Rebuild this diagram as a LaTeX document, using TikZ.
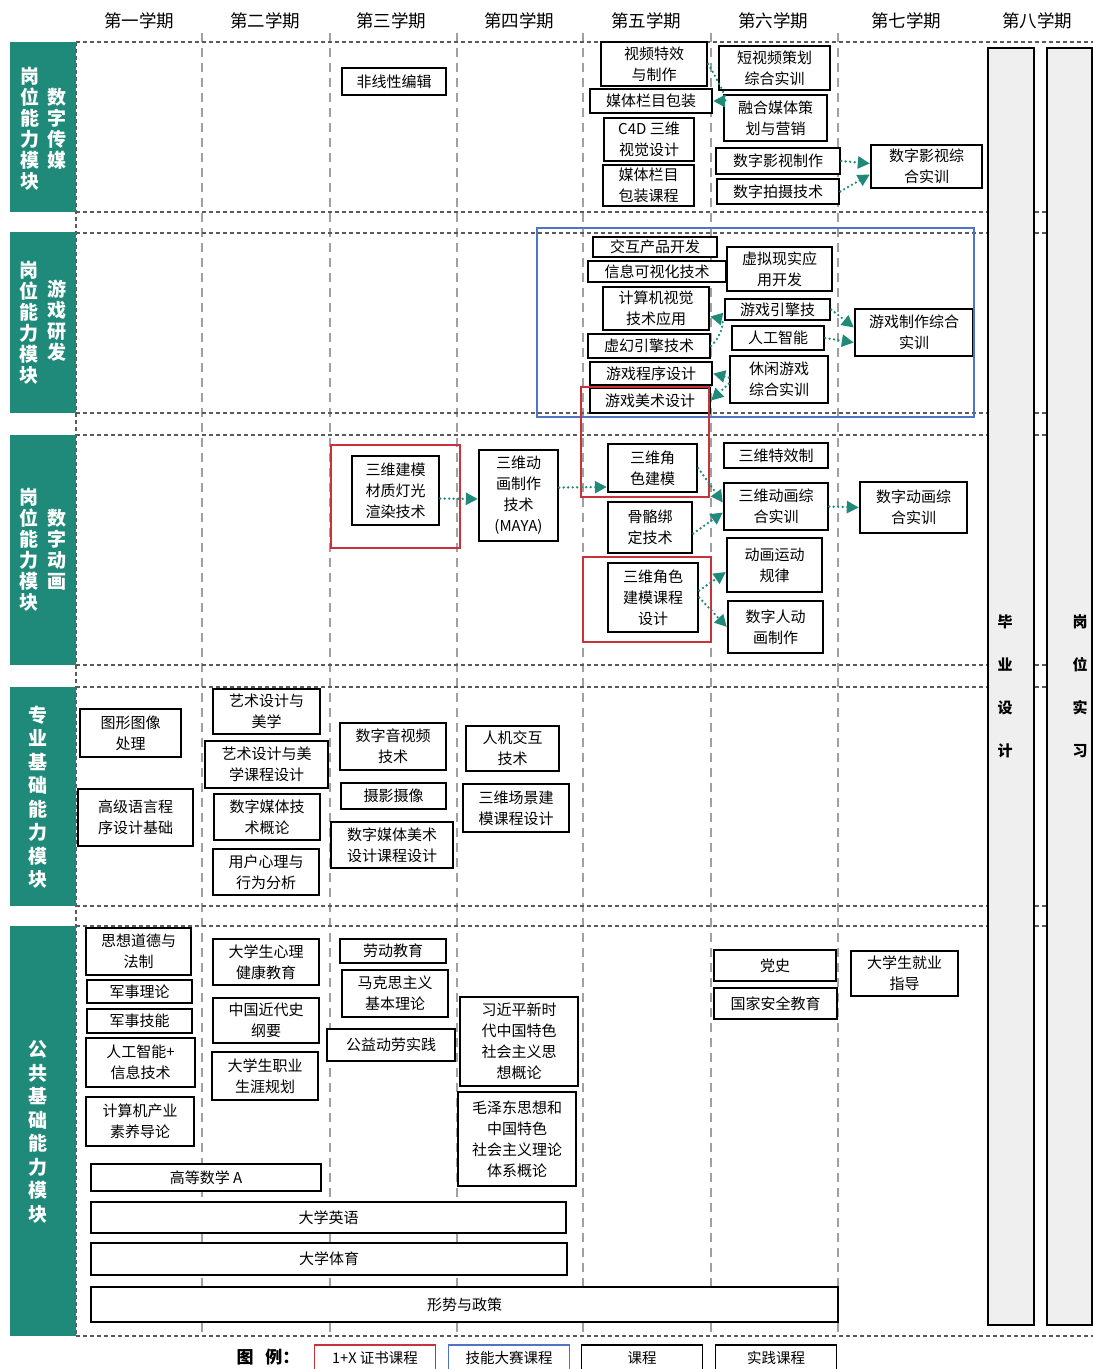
\documentclass[tikz,border=0pt]{standalone}
\usepackage{fontspec}
\setmainfont{Noto Sans CJK SC}
\usetikzlibrary{arrows.meta}

\definecolor{modgreen}{HTML}{1F8A79}
\definecolor{certred}{HTML}{C8323A}
\definecolor{skillblue}{HTML}{4F74C4}
\definecolor{gridgray}{HTML}{A0A0A0}
\definecolor{rowgray}{HTML}{5A5A5A}
\definecolor{colgray}{HTML}{EFEFEF}

\begin{document}
\begin{tikzpicture}[
    x=1pt, y=-1pt,
    course/.style 2 args={rectangle, draw, line width=2.4pt, fill=white, align=center, inner sep=0pt,
        minimum width=#1pt, minimum height=#2pt, font=\fontsize{15}{21}\selectfont},
    term/.style={inner sep=0pt, font=\fontsize{17.5}{17.5}\selectfont},
    modtext/.style={text=white, align=center, inner sep=0pt, font=\bfseries\fontsize{19}{21}\selectfont},
    modtextlong/.style={modtext, font=\bfseries\fontsize{19}{23.5}\selectfont},
    colword/.style={align=center, inner sep=0pt, font=\bfseries\fontsize{15}{43}\selectfont},
    semline/.style={draw=gridgray, line width=1.6pt, dash pattern=on 9pt off 6pt},
    rowline/.style={draw=rowgray, line width=1.5pt, dash pattern=on 4pt off 3pt},
    flow/.style={draw=modgreen, line width=2.6pt, line cap=round, dash pattern=on 0pt off 4.5pt,
        -{Triangle[length=12pt, width=12pt]}},
    certbox/.style={draw=certred, line width=2pt},
    skillbox/.style={draw=skillblue, line width=2pt},
    legbox/.style={rectangle, draw, line width=1.8pt, fill=white, inner sep=0pt,
        minimum width=121pt, minimum height=26pt, font=\fontsize{14.5}{14.5}\selectfont}
]
\useasboundingbox (0,0) rectangle (1093,1369);

% semesters
\foreach \x/\t in {139/第一学期, 265/第二学期, 391/第三学期, 519/第四学期,
                   646/第五学期, 773/第六学期, 906/第七学期, 1037/第八学期}
    \node[term] (sem\x) at (\x,21) {\t};

% grid
\foreach \x in {202,330,457,583,711,838}
    \draw[semline] (\x,33) -- (\x,1336);
\foreach \y in {42,212,233,413,435,665,687,906,926,1336}
    \draw[rowline] (76,\y) -- (1093,\y);
\draw[rowline] (76,42) -- (76,1336);

% module bands
\fill[modgreen] (10,42) rectangle (76,212);
\fill[modgreen] (10,232) rectangle (76,413);
\fill[modgreen] (10,435) rectangle (76,665);
\fill[modgreen] (10,687) rectangle (76,906);
\fill[modgreen] (10,926) rectangle (76,1336);
\node[modtext] (m1a) at (30,129) {岗\\位\\能\\力\\模\\块};
\node[modtext] (m1b) at (57,129) {数\\字\\传\\媒};
\node[modtext] (m2a) at (29,323) {岗\\位\\能\\力\\模\\块};
\node[modtext] (m2b) at (57,321) {游\\戏\\研\\发};
\node[modtext] (m3a) at (29,550) {岗\\位\\能\\力\\模\\块};
\node[modtext] (m3b) at (57,550) {数\\字\\动\\画};
\node[modtextlong] (m4) at (38,797) {专\\业\\基\\础\\能\\力\\模\\块};
\node[modtextlong] (m5) at (38,1132) {公\\共\\基\\础\\能\\力\\模\\块};

% final semesters
\draw[fill=colgray, line width=1.2pt] (988,48) rectangle (1034,1325);
\draw[fill=colgray, line width=1.2pt] (1047,48) rectangle (1092,1325);
\node[colword] (bysj) at (1005,686.5) {毕\\业\\设\\计};
\node[colword] (gwsx) at (1080,686.5) {岗\\位\\实\\习};

% digital media
\node[course={104}{27}] (fxxbj) at (394,81.5) {非线性编辑};
\node[course={106}{44}] (sptx) at (654,64) {视频特效\\与制作};
\node[course={122}{24}] (mtbz) at (651,101) {媒体栏目包装};
\node[course={90}{43}] (cfdsw) at (649,139.5) {C4D 三维\\视觉设计};
\node[course={91}{41}] (mtkc) at (648.5,185.5) {媒体栏目\\包装课程};
\node[course={111}{44}] (dspch) at (774.5,68) {短视频策划\\综合实训};
\node[course={103}{46}] (rhmt) at (775.5,118) {融合媒体策\\划与营销};
\node[course={124}{26}] (szys) at (778,161) {数字影视制作};
\node[course={122}{25}] (szps) at (778,191.5) {数字拍摄技术};
\node[course={111}{43}] (yszh) at (926.5,166.5) {数字影视综\\合实训};

\draw[flow] (sptx.east) .. controls +(8,14) and +(16,0) .. (mtbz.east);
\draw[flow] (szys.east) -- ([yshift=3pt]yszh.west);
\draw[flow] (szps.east) -- ([yshift=-8pt]yszh.west);

% game development
\node[course={124}{20}] (jhcp) at (655,247) {交互产品开发};
\node[course={138}{21}] (xxksh) at (657,271.5) {信息可视化技术};
\node[course={106}{43}] (jsjsj) at (656,308.5) {计算机视觉\\技术应用};
\node[course={122}{24}] (xhyq) at (649,346) {虚幻引擎技术};
\node[course={122}{23}] (yxcx) at (651,373.5) {游戏程序设计};
\node[course={120}{25}] (yxms) at (650,400.5) {游戏美术设计};
\node[course={105}{44}] (xnxs) at (779.5,269) {虚拟现实应\\用开发};
\node[course={105}{21}] (yxyq) at (777.5,309.5) {游戏引擎技};
\node[course={92}{24}] (rgzn) at (778,338) {人工智能};
\node[course={98}{47}] (xxyx) at (779,379.5) {休闲游戏\\综合实训};
\node[course={118}{47}] (yxzh) at (914,332.5) {游戏制作综合\\实训};
\draw[skillbox] (537,228) rectangle (974,417);

\draw[flow] (xhyq.east) .. controls +(12,-12) and +(14,3) .. ([yshift=-8pt]jsjsj.east);
\draw[flow] (yxyq.east) -- ([yshift=5pt]yxzh.west);
\draw[flow] (rgzn.east) -- ([yshift=-10pt]yxzh.west);
\draw[flow] ([yshift=2pt]xxyx.west) -- (yxcx.east);
\draw[flow] ([yshift=-4pt]xxyx.west) -- (yxms.east);

% digital animation
\node[course={87}{69}] (swjm) at (395.5,490.5) {三维建模\\材质灯光\\渲染技术};
\node[course={79}{91}] (maya) at (518.5,495.5) {三维动\\画制作\\技术\\(MAYA)};
\node[course={89}{48}] (swjs) at (652.5,468) {三维角\\色建模};
\node[course={84}{51}] (ggbd) at (650,527.5) {骨骼绑\\定技术};
\node[course={90}{69}] (jskc) at (653,597.5) {三维角色\\建模课程\\设计};
\node[course={104}{25}] (swtx) at (776,455.5) {三维特效制};
\node[course={104}{47}] (dhzh) at (776,506.5) {三维动画综\\合实训};
\node[course={95}{54}] (dhyd) at (774.5,565) {动画运动\\规律};
\node[course={95}{52}] (szr) at (775.5,627) {数字人动\\画制作};
\node[course={107}{51}] (szdh) at (913.5,507.5) {数字动画综\\合实训};
\draw[certbox] (331,445) rectangle (460,548);
\draw[certbox] (581,387) rectangle (709,497);
\draw[certbox] (583,557) rectangle (711,642);

\draw[flow] ([yshift=-8pt]swjm.east) -- ([yshift=-3.5pt]maya.west);
\draw[flow] ([yshift=8pt]maya.east) -- ([yshift=-19pt]swjs.west);
\draw[flow] (swjs.east) -- ([yshift=4pt]dhzh.west);
\draw[flow] ([yshift=-6pt]ggbd.east) -- ([yshift=-6pt]dhzh.west);
\draw[flow] (dhzh.east) -- (szdh.west);
\draw[flow] ([yshift=7pt]jskc.east) -- ([yshift=-7pt]dhyd.west);
\draw[flow] (jskc.east) -- (szr.west);

% professional basics
\node[course={101}{48}] (txtx) at (130.5,733) {图形图像\\处理};
\node[course={115}{57}] (gjyy) at (135.5,817.5) {高级语言程\\序设计基础};
\node[course={107}{45}] (ysmx) at (266.5,711.5) {艺术设计与\\美学};
\node[course={123}{47}] (yskc) at (266.5,764.5) {艺术设计与美\\学课程设计};
\node[course={106}{46}] (szmtgl) at (267,817) {数字媒体技\\术概论};
\node[course={106}{46}] (yhxl) at (266,872) {用户心理与\\行为分析};
\node[course={106}{47}] (szyp) at (393,746.5) {数字音视频\\技术};
\node[course={105}{26}] (sysx) at (393.5,796) {摄影摄像};
\node[course={122}{46}] (mskc) at (392,845) {数字媒体美术\\设计课程设计};
\node[course={93}{45}] (rjjh) at (512.5,748.5) {人机交互\\技术};
\node[course={106}{48}] (cjkc) at (516,808) {三维场景建\\模课程设计};

% public basics
\node[course={105}{47}] (sxdd) at (138.5,951.5) {思想道德与\\法制};
\node[course={105}{23}] (jsll) at (139.5,991.5) {军事理论};
\node[course={105}{24}] (jsjn) at (139.5,1021) {军事技能};
\node[course={109}{49}] (rgznxx) at (140.5,1062.5) {人工智能+\\信息技术};
\node[course={108}{49}] (jsjcy) at (140,1121.5) {计算机产业\\素养导论};
\node[course={230}{27}] (gdsx) at (206,1177.5) {高等数学 A};
\node[course={106}{46}] (dxxl) at (266,962) {大学生心理\\健康教育};
\node[course={106}{45}] (zgjd) at (266,1020.5) {中国近代史\\纲要};
\node[course={106}{48}] (zysy) at (265,1076) {大学生职业\\生涯规划};
\node[course={106}{24}] (ldjy) at (393,951) {劳动教育};
\node[course={106}{47}] (mksz) at (395,993.5) {马克思主义\\基本理论};
\node[course={128}{32}] (gyld) at (391,1045) {公益动劳实践};
\node[course={118}{89}] (xjp) at (519,1041.5) {习近平新时\\代中国特色\\社会主义思\\想概论};
\node[course={118}{94}] (mzd) at (517,1139) {毛泽东思想和\\中国特色\\社会主义理论\\体系概论};
\node[course={122}{31}] (dangshi) at (775,965.5) {党史};
\node[course={123}{31}] (gjaq) at (775.5,1003.5) {国家安全教育};
\node[course={107}{45}] (jyzd) at (904.5,973.5) {大学生就业\\指导};
\node[course={475}{31}] (dxyy) at (328.5,1217.5) {大学英语};
\node[course={476}{32}] (dxty) at (329,1259) {大学体育};
\node[course={747}{35}] (xszc) at (464.5,1304.5) {形势与政策};

% legend
\node[font=\bfseries\fontsize{17}{17}\selectfont] (legtitle) at (268,1357) {图\hspace{12pt}例：};
\node[legbox, draw=certred] (legcert) at (375,1358) {1+X 证书课程};
\node[legbox, draw=skillblue] (legskill) at (509,1358) {技能大赛课程};
\node[legbox] (legcourse) at (642,1358) {课程};
\node[legbox] (legpract) at (776,1358) {实践课程};

\end{tikzpicture}
\end{document}
